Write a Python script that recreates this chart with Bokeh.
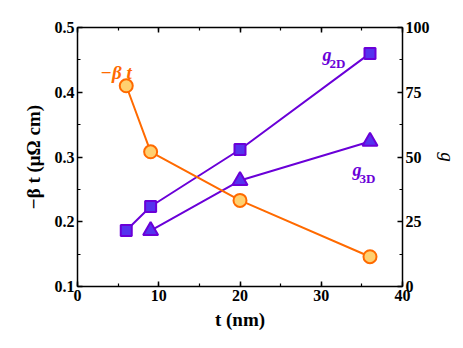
import math
from bokeh.plotting import figure
from bokeh.models import Range1d, LinearAxis, SingleIntervalTicker, Label
from bokeh.embed import file_html
from bokeh.resources import INLINE

# ---- data ----
t_beta = [6, 9, 20, 36]
beta_t = [0.410, 0.308, 0.233, 0.146]
t_2d = [6, 9, 20, 36]
g_2d = [21.6, 30.9, 52.9, 90.0]
t_3d = [9, 20, 36]
g_3d = [21.6, 40.9, 56.0]

ORANGE = "#FF6A00"
ORANGE_FILL = "#FFD070"
PURPLE = "#6A00D8"
PURPLE_FILL = "#5533EE"
FONT = "Liberation Serif"

W, H = 462, 340
p = figure(width=W, height=H, output_backend="svg", toolbar_location=None,
           x_range=Range1d(0, 40), y_range=Range1d(0.1, 0.5),
           min_border_left=77, min_border_right=60, min_border_top=27, min_border_bottom=54)
p.extra_y_ranges = {"g": Range1d(0, 100)}
p.xgrid.visible = False
p.ygrid.visible = False
p.outline_line_color = None
p.background_fill_color = "white"
p.border_fill_color = "white"

def style(ax, labels=True):
    ax.axis_line_width = 1.5
    ax.axis_line_color = "black"
    ax.major_tick_in = 5
    ax.major_tick_out = 0
    ax.minor_tick_in = 3
    ax.minor_tick_out = 0
    ax.major_tick_line_width = 1.5
    ax.minor_tick_line_width = 1.2
    ax.major_label_text_font = FONT
    ax.major_label_text_font_style = "bold"
    ax.major_label_text_font_size = "16px"
    ax.major_label_text_color = "black" if labels else None
    ax.major_label_standoff = 3
    ax.axis_label_text_font = FONT
    ax.axis_label_text_font_size = "19px"
    ax.axis_label_text_color = "black"

p.xaxis.ticker = SingleIntervalTicker(interval=10, num_minor_ticks=2)
p.yaxis.ticker = SingleIntervalTicker(interval=0.1, num_minor_ticks=2)
style(p.xaxis[0])
style(p.yaxis[0])
p.xaxis.axis_label = "t (nm)"
p.xaxis.axis_label_text_font_style = "bold"
p.xaxis.axis_label_standoff = 5
p.yaxis.axis_label = "\u2212\u03b2 t (\u03bc\u03a9 cm)"
p.yaxis.axis_label_text_font_style = "bold"
p.yaxis.axis_label_standoff = 8

top = LinearAxis(ticker=SingleIntervalTicker(interval=10, num_minor_ticks=2))
style(top, labels=False)
p.add_layout(top, "above")

right = LinearAxis(y_range_name="g", ticker=SingleIntervalTicker(interval=25, num_minor_ticks=2))
style(right)
right.axis_label = "g"
right.axis_label_text_font_style = "italic"
right.axis_label_standoff = 4
p.add_layout(right, "right")

# series
p.line(t_2d, g_2d, y_range_name="g", line_color=PURPLE, line_width=2)
p.scatter(t_2d, g_2d, y_range_name="g", marker="square", size=11,
          fill_color=PURPLE_FILL, line_color=PURPLE, line_width=2)
p.line(t_3d, g_3d, y_range_name="g", line_color=PURPLE, line_width=2)
p.scatter(t_3d, g_3d, y_range_name="g", marker="triangle", size=15,
          fill_color=PURPLE_FILL, line_color=PURPLE, line_width=2)
p.line(t_beta, beta_t, line_color=ORANGE, line_width=2)
p.scatter(t_beta, beta_t, marker="circle", size=13,
          fill_color=ORANGE_FILL, line_color=ORANGE, line_width=2)

def lab(x, y, text, size, style_="bold", color="black", rng=None):
    kw = dict(x=x, y=y, text=text, text_font=FONT, text_font_style=style_,
              text_font_size=size, text_color=color,
              text_baseline="alphabetic", text_align="left")
    if rng:
        kw["y_range_name"] = rng
    p.add_layout(Label(**kw))

# in-plot annotations
lab(2.83, 0.4305, "\u2212\u03b2 t", "19px", "bold italic", ORANGE)
lab(30.15, 89.2, "g", "18px", "bold italic", PURPLE, rng="g")
lab(31.0, 86.1, "2D", "13px", "bold", PURPLE, rng="g")
lab(33.85, 44.8, "g", "18px", "bold italic", PURPLE, rng="g")
lab(34.7, 41.7, "3D", "13px", "bold", PURPLE, rng="g")

open("out.html", "w").write(file_html(p, INLINE))
